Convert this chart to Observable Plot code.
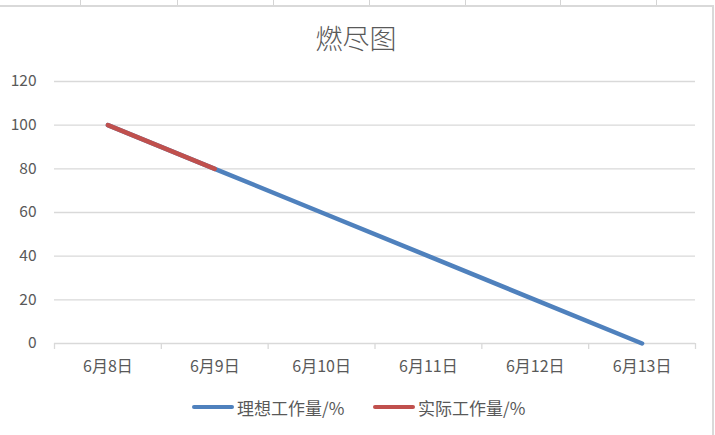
<!DOCTYPE html>
<html>
<head>
<meta charset="utf-8">
<script src="https://cdn.jsdelivr.net/npm/d3@7"></script>
<script src="https://cdn.jsdelivr.net/npm/@observablehq/plot@0.6"></script>
<style>
  html, body { margin: 0; padding: 0; background: #fff; }
  #page { position: relative; width: 715px; height: 435px; overflow: hidden; background: #fff;
          font-family: "Noto Sans CJK SC", "Noto Sans", sans-serif; color: #595959; }
  .cell { position: absolute; top: 0; width: 1px; height: 5px; background: #d4d4d4; }
  #frame { position: absolute; left: -1px; top: 5px; width: 715px; height: 440px;
           border-top: 2px solid #d9d9d9; border-right: 2px solid #d9d9d9; box-sizing: border-box; }
  #title { position: absolute; left: 0; width: 712px; top: 20px; text-align: center;
           font-size: 27px; font-weight: 300; line-height: 36px; color: #595959; }
  #chart { position: absolute; left: 0; top: 60px; }
  #legend { position: absolute; top: 396px; left: 0; width: 715px; height: 22px; font-size: 17px; }
  .key { position: absolute; top: 0; display: flex; align-items: center; height: 22px; }
  .swatch { width: 42px; height: 4.5px; border-radius: 3px; margin-right: 3px; }
</style>
</head>
<body>
<div id="page">
  <div id="frame"></div>
  <div id="title">燃尽图</div>
  <div id="chart"></div>
  <div id="legend"></div>
</div>
<script>
// ---- data ----
const dates = ["6月8日", "6月9日", "6月10日", "6月11日", "6月12日", "6月13日"];
const idealValues = [100, 80, 60, 40, 20, 0];
const actualValues = [100, 80];
const yTicks = [0, 20, 40, 60, 80, 100, 120];
const seriesNames = ["理想工作量/%", "实际工作量/%"];
const seriesColors = ["#4F81BD", "#C0504D"];
const cellLines = [80, 177, 273, 369, 465, 560, 656];

// decorative spreadsheet cell lines above chart area
const page = document.getElementById("page");
cellLines.forEach(x => {
  const d = document.createElement("div");
  d.className = "cell"; d.style.left = x + "px";
  page.insertBefore(d, page.firstChild);
});

const ideal = idealValues.map((v, i) => ({x: i + 0.5, y: v}));
const actual = actualValues.map((v, i) => ({x: i + 0.5, y: v}));
const labels = dates.map((d, i) => ({x: i + 0.5, label: d}));
const boundaries = d3.range(dates.length + 1);

const chart = Plot.plot({
  width: 715,
  height: 320,
  marginTop: 21,
  marginBottom: 37,
  marginLeft: 54,
  marginRight: 20,
  style: {color: "#595959", fontFamily: '"Noto Sans CJK SC", "Noto Sans", sans-serif', background: "transparent"},
  x: {domain: [0, dates.length], axis: null},
  y: {domain: [0, 120], axis: null},
  marks: [
    Plot.ruleY(yTicks, {x1: 0, x2: dates.length, stroke: "#d9d9d9", strokeWidth: 1.3}),
    Plot.ruleX(boundaries, {y1: 0, y2: -2.75, stroke: "#d9d9d9", strokeWidth: 1.3}),
    Plot.text(yTicks, {x: 0, y: d => d, text: d => String(d), dx: -18, textAnchor: "end", fontSize: 15.5, fill: "#595959"}),
    Plot.text(labels, {x: "x", y: 0, text: "label", dy: 23, fontSize: 16, fill: "#595959"}),
    Plot.line(ideal, {x: "x", y: "y", stroke: seriesColors[0], strokeWidth: 4.5, strokeLinecap: "round"}),
    Plot.line(actual, {x: "x", y: "y", stroke: seriesColors[1], strokeWidth: 4.5, strokeLinecap: "round"})
  ]
});
document.getElementById("chart").appendChild(chart);

// legend
const legend = document.getElementById("legend");
const keyLefts = [192, 373];
seriesNames.forEach((name, i) => {
  const k = document.createElement("div");
  k.className = "key"; k.style.left = keyLefts[i] + "px";
  const sw = document.createElement("div");
  sw.className = "swatch"; sw.style.background = seriesColors[i];
  const t = document.createElement("span"); t.textContent = name;
  k.appendChild(sw); k.appendChild(t);
  legend.appendChild(k);
});
</script>
</body>
</html>
